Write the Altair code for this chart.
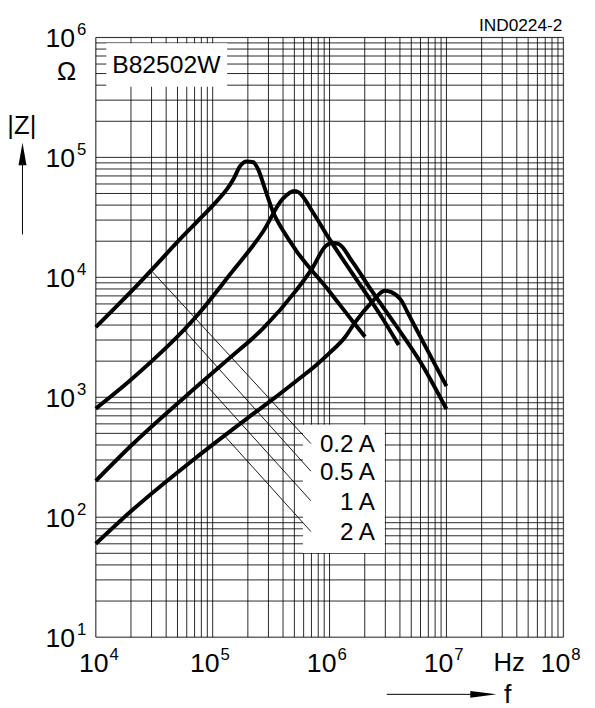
import altair as alt
import pandas as pd

FONT = "Liberation Sans, Arial, Helvetica, sans-serif"

# ---- impedance curves |Z|(f) for B82502W ----
f_02 = [1e4, 2.31e4, 6.09e4, 7.39e4, 1.09e5, 1.33e5, 1.52e5, 1.71e5, 1.95e5, 2.23e5, 2.47e5, 2.77e5, 3.28e5, 4.09e5, 5.16e5, 9.86e5, 1.55e6, 2.01e6]
z_02 = [3850, 8790, 24100, 29200, 43400, 54500, 67000, 84100, 92500, 91000, 78000, 56500, 35200, 23700, 16800, 7740, 4390, 3200]

f_05 = [1e4, 2.02e4, 7.39e4, 1.41e5, 2.7e5, 3.99e5, 5.0e5, 5.5e5, 7.15e5, 9.86e5, 1.89e6, 2.79e6, 3.9e6]
z_05 = [804, 1410, 4820, 10600, 24100, 45300, 52500, 50800, 35200, 21200, 8240, 4670, 2730]

f_1 = [1e4, 2.02e4, 7.39e4, 1.41e5, 2.7e5, 5.16e5, 7.15e5, 9.25e5, 1.05e6, 1.2e6, 1.55e6, 2.29e6, 3.6e6, 6.06e6, 1e7]
z_1 = [201, 398, 1240, 2140, 3750, 7740, 12000, 18200, 19300, 18900, 13700, 7740, 4120, 1930, 798]

f_2 = [1e4, 2.02e4, 7.39e4, 1.95e5, 3.28e5, 5.16e5, 7.62e5, 9.86e5, 1.36e6, 1.66e6, 2.29e6, 2.97e6, 3.38e6, 4.11e6, 4.67e6, 6.89e6, 1e7]
z_2 = [60, 113, 320, 661, 964, 1360, 1840, 2310, 3180, 4230, 6170, 7740, 7530, 6410, 5060, 2460, 1240]

currents = ["0.2 A", "0.5 A", "1 A", "2 A"]

# leader lines from each curve to its label
leader_f0 = [3.03e4, 5.7e4, 8.4e4, 1.28e5]
leader_z0 = [11200, 3630, 1330, 470]
leader_f1 = [6.92e5, 6.92e5, 6.92e5, 6.92e5]
leader_z1 = [411, 242, 137, 76]

# white label boxes (data units)
legend_box = {"x1": 5.92e5, "x2": 2.97e6, "y1": 590, "y2": 50.4}
name_box = {"x1": 1.23e4, "x2": 1.33e5, "y1": 8.93e5, "y2": 3.88e5, "label": "B82502W"}

# axis decades and tick labels
x_decades = [1e4, 1e5, 1e6, 1e7, 1e8]
x_exps = ["4", "5", "6", "7", "8"]
y_decades = [1e1, 1e2, 1e3, 1e4, 1e5, 1e6]
y_exps = ["1", "2", "3", "4", "5", "6"]

x_grid = [m * 10 ** e for e in range(4, 8) for m in range(1, 10)] + [10 ** 8]
y_grid = [m * 10 ** e for e in range(1, 6) for m in range(1, 10)] + [10 ** 6]

xs = alt.Scale(type="log", domain=[1e4, 1e8], nice=False)
ys = alt.Scale(type="log", domain=[10, 1e6], nice=False)

rows = []
for name, fs, zs in [("0.2 A", f_02, z_02), ("0.5 A", f_05, z_05), ("1 A", f_1, z_1), ("2 A", f_2, z_2)]:
    for i, (f, z) in enumerate(zip(fs, zs)):
        rows.append({"current": name, "f": f, "z": z, "i": i})
curves_df = pd.DataFrame(rows)

# grid
vgrid = alt.Chart(pd.DataFrame({"f": x_grid})).mark_rule(color="black", strokeWidth=1, opacity=0.85).encode(
    x=alt.X("f:Q", scale=xs, axis=None))
hgrid = alt.Chart(pd.DataFrame({"z": y_grid})).mark_rule(color="black", strokeWidth=1, opacity=0.85).encode(
    y=alt.Y("z:Q", scale=ys, axis=None))

curves = alt.Chart(curves_df).mark_line(color="black", strokeWidth=4, interpolate="monotone").encode(
    x=alt.X("f:Q", scale=xs, axis=None),
    y=alt.Y("z:Q", scale=ys, axis=None),
    detail="current:N",
    order="i:Q",
)

boxes_df = pd.DataFrame([
    {"x1": legend_box["x1"], "x2": legend_box["x2"], "y1": legend_box["y1"], "y2": legend_box["y2"]},
    {"x1": name_box["x1"], "x2": name_box["x2"], "y1": name_box["y1"], "y2": name_box["y2"]},
])
boxes = alt.Chart(boxes_df).mark_rect(fill="white").encode(
    x=alt.X("x1:Q", scale=xs, axis=None), x2="x2:Q",
    y=alt.Y("y1:Q", scale=ys, axis=None), y2="y2:Q",
)

name_df = pd.DataFrame([name_box])
name_text = alt.Chart(name_df).transform_calculate(ym="sqrt(datum.y1*datum.y2)").mark_text(
    align="left", baseline="middle", font=FONT, fontSize=25, dx=6, dy=0, color="black"
).encode(x=alt.X("x1:Q", scale=xs, axis=None), y=alt.Y("ym:Q", scale=ys, axis=None), text="label:N")

leader_df = pd.DataFrame({"f0": leader_f0, "z0": leader_z0, "f1": leader_f1, "z1": leader_z1, "label": currents})
leaders = alt.Chart(leader_df).mark_rule(color="black", strokeWidth=0.9).encode(
    x=alt.X("f0:Q", scale=xs, axis=None), y=alt.Y("z0:Q", scale=ys, axis=None), x2="f1:Q", y2="z1:Q"
)
leader_labels = alt.Chart(leader_df).mark_text(
    align="right", baseline="middle", font=FONT, fontSize=24.5, dx=65, dy=2, color="black"
).encode(x=alt.X("f1:Q", scale=xs, axis=None), y=alt.Y("z1:Q", scale=ys, axis=None), text="label:N")

# x tick labels 10^n
xl_df = pd.DataFrame({"f": x_decades, "base": ["10"] * 5, "exp": x_exps, "zb": [10] * 5})
xl_first = alt.Chart(xl_df).transform_filter("datum.f < 20000")
xl_rest = alt.Chart(xl_df).transform_filter("datum.f > 20000")
xlab = []
for ch, dxb in [(xl_first, 13), (xl_rest, 7)]:
    xlab.append(ch.mark_text(align="right", baseline="middle", font=FONT, fontSize=27, dx=dxb, dy=27, color="black").encode(
        x=alt.X("f:Q", scale=xs, axis=None), y=alt.Y("zb:Q", scale=ys, axis=None), text="base:N"))
    xlab.append(ch.mark_text(align="left", baseline="middle", font=FONT, fontSize=17, dx=dxb + 1, dy=18, color="black").encode(
        x=alt.X("f:Q", scale=xs, axis=None), y=alt.Y("zb:Q", scale=ys, axis=None), text="exp:N"))

# y tick labels 10^n
yl_df = pd.DataFrame({"z": y_decades, "base": ["10"] * 6, "exp": y_exps, "fl": [1e4] * 6})
ylab_base = alt.Chart(yl_df).mark_text(align="right", baseline="middle", font=FONT, fontSize=27, dx=-21, dy=2, color="black").encode(
    x=alt.X("fl:Q", scale=xs, axis=None), y=alt.Y("z:Q", scale=ys, axis=None), text="base:N")
ylab_exp = alt.Chart(yl_df).mark_text(align="left", baseline="middle", font=FONT, fontSize=17, dx=-19, dy=-7, color="black").encode(
    x=alt.X("fl:Q", scale=xs, axis=None), y=alt.Y("z:Q", scale=ys, axis=None), text="exp:N")

one = pd.DataFrame({"k": [0]})


def label(txt, x, y, size, align="center"):
    return alt.Chart(one).mark_text(text=txt, align=align, baseline="middle", font=FONT, fontSize=size, color="black").encode(
        x=alt.value(x), y=alt.value(y))


annotations = [
    label("Ω", -29.5, 35, 26),
    label("|Z|", -75, 90, 26),
    label("Hz", 419, 634, 26),
    label("f", 417.5, 667, 27),
    label("IND0224-2", 473, -12, 17.5, align="right"),
    # |Z| arrow
    alt.Chart(one).mark_rule(color="black", strokeWidth=1).encode(
        x=alt.value(-74.3), y=alt.value(199.7), y2=alt.value(125)),
    alt.Chart(one).mark_point(shape="M0,-1L0.35,1L-0.35,1Z", size=529, filled=True, color="black", opacity=1, strokeWidth=0).encode(
        x=alt.value(-74.3), y=alt.value(118.2)),
    # f arrow
    alt.Chart(one).mark_rule(color="black", strokeWidth=1).encode(
        x=alt.value(295), x2=alt.value(385), y=alt.value(666)),
    alt.Chart(one).mark_point(shape="M1,0L-1,0.25L-1,-0.25Z", size=708, filled=True, color="black", opacity=1, strokeWidth=0).encode(
        x=alt.value(393), y=alt.value(666)),
]

chart = alt.layer(
    vgrid, hgrid, boxes, curves, name_text, leaders, leader_labels, *xlab, ylab_base, ylab_exp, *annotations
).properties(
    width=474, height=608,
    padding={"left": 89, "top": 25, "right": 24, "bottom": 67},
    autosize=alt.AutoSizeParams(type="none"),
).configure_view(stroke="black", strokeWidth=1.2).configure(background="white")

chart.save("out.html", embed_options={"renderer": "svg", "actions": False})
